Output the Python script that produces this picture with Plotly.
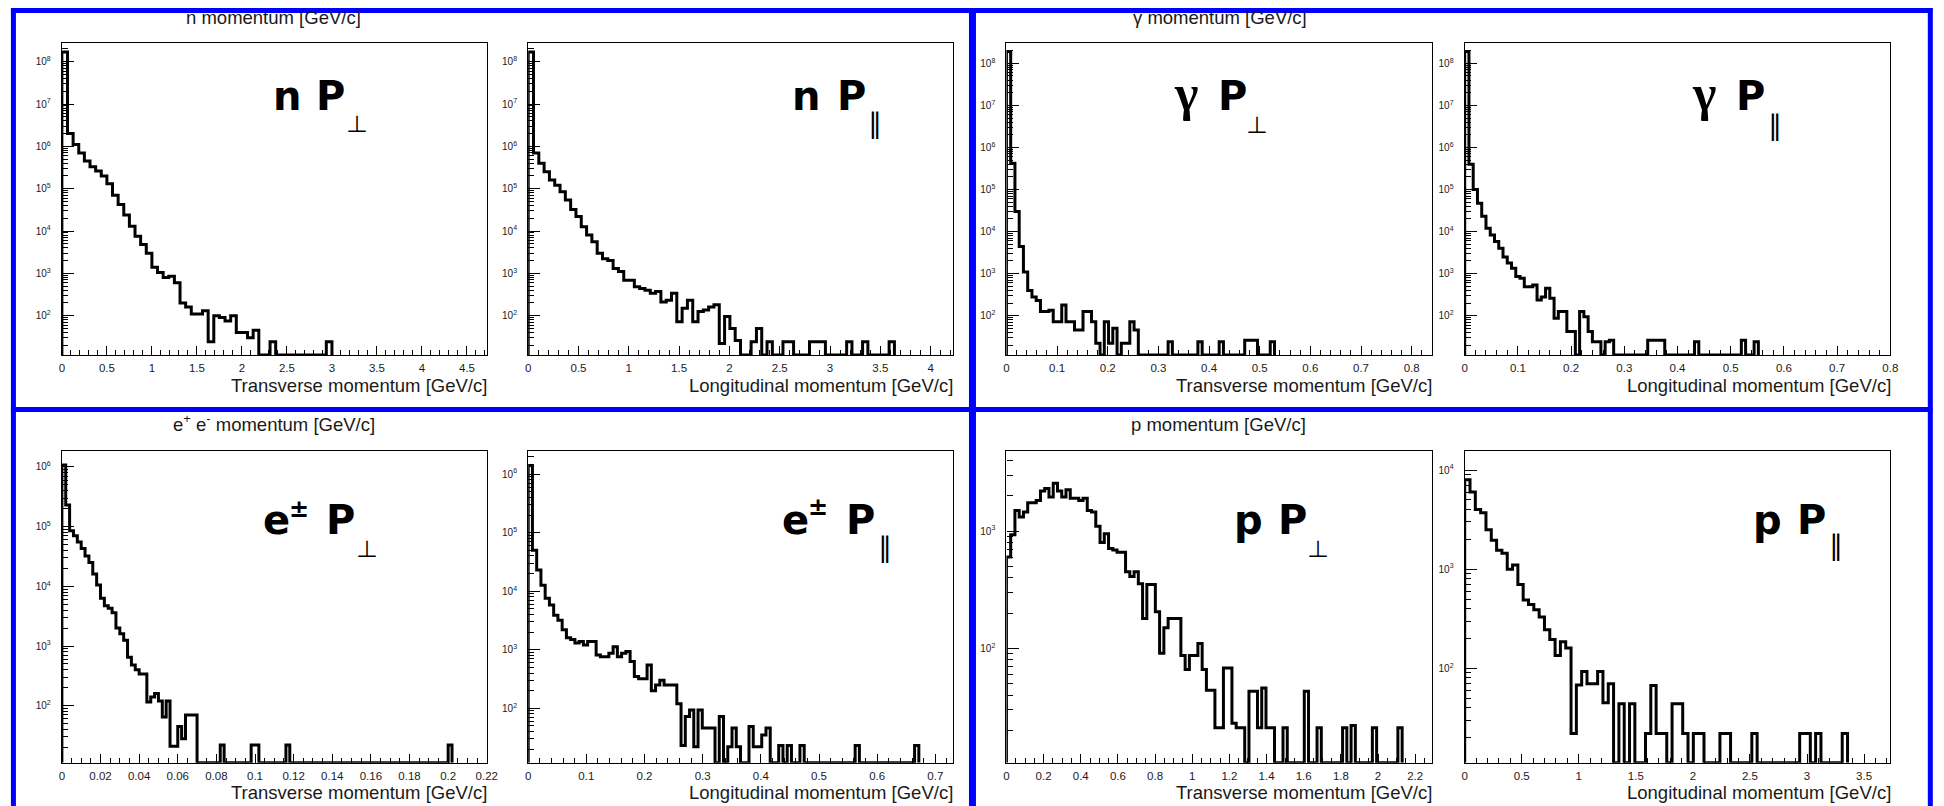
import numpy as np
import plotly.graph_objects as go

FIG_W, FIG_H = 1944, 806

# ---------------------------------------------------------------------------
# Histogram contents: bin width [GeV/c] and entries per bin, starting at 0
# ---------------------------------------------------------------------------
n_pt_width = 0.0625
n_pt_counts = [1.7e8, 2.0e6, 1.1e6, 7.0e5, 4.5e5, 3.3e5, 2.6e5, 2.0e5, 1.3e5, 7.0e4,
               4.2e4, 2.4e4, 1.3e4, 7.5e3, 4.8e3, 3.0e3, 1.4e3, 1.05e3, 800, 850,
               600, 200, 160, 110, 110, 130, 24, 100, 90, 75,
               100, 40, 40, 30, 45, 0, 0, 24, 0, 0,
               0, 0, 0, 0, 0, 0, 0, 24]

n_pl_width = 0.05275
n_pl_counts = [1.7e8, 7.0e5, 4.0e5, 2.5e5, 1.6e5, 1.2e5, 8.5e4, 5.4e4, 3.2e4, 2.2e4,
               1.26e4, 8.0e3, 5.6e3, 3.0e3, 2.2e3, 2.0e3, 1.3e3, 1.1e3, 690, 690,
               480, 440, 400, 340, 370, 210, 230, 340, 72, 150,
               230, 72, 125, 135, 160, 180, 22, 95, 50, 26,
               0, 0, 24, 50, 0, 24, 0, 0, 24, 24,
               0, 0, 0, 24, 24, 24, 0, 0, 0, 0,
               24, 0, 0, 24, 0, 0, 0, 0, 24]

gamma_pt_width = 0.0084
gamma_pt_counts = [1.9e8, 4.2e5, 3.0e4, 4.4e3, 1.1e3, 400, 280, 230, 126, 126,
                   135, 72, 72, 180, 72, 72, 46, 46, 126, 126,
                   72, 22, 0, 72, 22, 50, 0, 22, 22, 72,
                   46, 0, 0, 0, 0, 0, 0, 0, 24, 0,
                   0, 0, 0, 0, 0, 24, 0, 0, 0, 0,
                   24, 0, 0, 0, 0, 0, 26, 26, 26, 0,
                   0, 0, 24]

gamma_pl_width = 0.008
gamma_pl_counts = [1.9e8, 4.0e5, 1.0e5, 4.7e4, 2.3e4, 1.2e4, 8.3e3, 5.8e3, 4.0e3, 2.5e3,
                   1.8e3, 1.35e3, 850, 780, 490, 490, 540, 235, 280, 450,
                   260, 87, 126, 126, 42, 42, 0, 126, 95, 42,
                   24, 24, 0, 24, 26, 0, 0, 0, 0, 0,
                   0, 0, 0, 26, 26, 26, 26, 0, 0, 0,
                   0, 0, 0, 0, 24, 0, 0, 0, 0, 0,
                   0, 0, 0, 0, 0, 26, 0, 0, 24]

e_pt_width = 0.002
e_pt_counts = [1.07e6, 2.3e5, 8.5e4, 7.0e4, 5.5e4, 4.3e4, 3.2e4, 2.5e4, 1.6e4, 1.05e4,
               6.3e3, 4.7e3, 4.3e3, 3.6e3, 2.0e3, 1.6e3, 1.25e3, 650, 480, 400,
               340, 340, 115, 140, 160, 120, 65, 120, 21, 21,
               45, 28, 70, 70, 70, 0, 0, 0, 0, 0,
               0, 22, 0, 0, 0, 0, 0, 0, 0, 22,
               22, 0, 0, 0, 0, 0, 0, 0, 22, 0,
               0, 0, 0, 0, 0, 0, 0, 0, 0, 0,
               0, 0, 0, 0, 0, 0, 0, 0, 0, 0,
               0, 0, 0, 0, 0, 0, 0, 0, 0, 0,
               0, 0, 0, 0, 0, 0, 0, 0, 0, 0,
               22]

e_pl_width = 0.0073
e_pl_counts = [1.4e6, 5.0e4, 2.3e4, 1.26e4, 7.6e3, 5.8e3, 3.9e3, 3.2e3, 2.2e3, 1.6e3,
               1.5e3, 1.3e3, 1.38e3, 1.2e3, 1.38e3, 1.38e3, 810, 760, 760, 870,
               1.12e3, 760, 870, 930, 630, 350, 320, 320, 550, 200,
               250, 300, 250, 250, 250, 120, 23, 72, 93, 22,
               93, 46, 46, 46, 0, 72, 0, 22, 46, 22,
               0, 0, 49, 22, 22, 35, 46, 0, 0, 23,
               0, 23, 0, 0, 23, 0, 0, 0, 0, 0,
               0, 0, 0, 0, 0, 0, 0, 23, 0, 0,
               0, 0, 0, 0, 0, 0, 0, 0, 0, 0,
               0, 23]

p_pt_width = 0.0229
p_pt_counts = [600, 930, 1.5e3, 1.32e3, 1.45e3, 1.74e3, 1.74e3, 1.82e3, 2.2e3, 2.3e3,
               1.95e3, 2.55e3, 2.2e3, 1.95e3, 2.25e3, 1.9e3, 1.9e3, 1.82e3, 1.9e3, 1.5e3,
               1.45e3, 1.1e3, 800, 950, 710, 690, 660, 660, 450, 410,
               450, 355, 180, 350, 350, 205, 91, 150, 180, 180,
               180, 87, 66, 87, 87, 110, 66, 44, 44, 21,
               21, 68, 68, 23, 21, 21, 0, 43, 43, 21,
               46, 21, 21, 0, 0, 21, 0, 0, 0, 0,
               43, 0, 0, 21, 0, 0, 0, 0, 0, 21,
               0, 22, 0, 0, 0, 0, 21, 0, 0, 0,
               0, 0, 21]

p_pl_width = 0.0466
p_pl_counts = [8.0e3, 6.0e3, 4.0e3, 3.7e3, 2.5e3, 1.96e3, 1.55e3, 1.45e3, 1.0e3, 1.1e3,
               700, 490, 440, 390, 330, 245, 195, 135, 185, 160,
               22, 68, 93, 70, 70, 93, 45, 70, 0, 44,
               0, 44, 0, 0, 22, 67, 22, 22, 0, 44,
               44, 22, 0, 22, 22, 0, 0, 0, 22, 22,
               0, 0, 0, 0, 22, 0, 0, 0, 0, 0,
               0, 0, 0, 22, 22, 0, 22, 0, 0, 0,
               0, 22]

# ---------------------------------------------------------------------------
# Text
# ---------------------------------------------------------------------------
pad_titles = ["n momentum [GeV/c]", "γ momentum [GeV/c]",
              "e<sup>+</sup> e<sup>-</sup> momentum [GeV/c]", "p momentum [GeV/c]"]
pt_title = "Transverse momentum [GeV/c]"
pl_title = "Longitudinal momentum [GeV/c]"

# ---------------------------------------------------------------------------
# Pad geometry (pixels) and axis settings
# ---------------------------------------------------------------------------
panels = [
    dict(width=n_pt_width, counts=n_pt_counts, box=(59.3, 43.3, 487.3, 355.0),
         xmax=4.72, xdtick=0.5, xminor=0.1, ylog=(1.07, 8.435), title=pt_title),
    dict(width=n_pl_width, counts=n_pl_counts, box=(529.0, 43.3, 956.7, 355.0),
         xmax=4.22, xdtick=0.5, xminor=0.1, ylog=(1.07, 8.435), title=pl_title),
    dict(width=gamma_pt_width, counts=gamma_pt_counts, box=(1010.7, 43.3, 1439.3, 355.0),
         xmax=0.84, xdtick=0.1, xminor=0.02, ylog=(1.066, 8.475), title=pt_title),
    dict(width=gamma_pl_width, counts=gamma_pl_counts, box=(1472.3, 43.3, 1901.0, 355.0),
         xmax=0.8, xdtick=0.1, xminor=0.02, ylog=(1.066, 8.475), title=pl_title),
    dict(width=e_pt_width, counts=e_pt_counts, box=(59.3, 450.7, 487.3, 762.7),
         xmax=0.22, xdtick=0.02, xminor=0.005, ylog=(1.046, 6.27), title=pt_title),
    dict(width=e_pl_width, counts=e_pl_counts, box=(529.0, 450.7, 956.7, 762.7),
         xmax=0.73, xdtick=0.1, xminor=0.02, ylog=(1.07, 6.40), title=pl_title),
    dict(width=p_pt_width, counts=p_pt_counts, box=(1010.7, 450.7, 1439.3, 762.7),
         xmax=2.29, xdtick=0.2, xminor=0.05, ylog=(1.025, 3.685), title=pt_title),
    dict(width=p_pl_width, counts=p_pl_counts, box=(1472.3, 450.7, 1901.0, 762.7),
         xmax=3.73, xdtick=0.5, xminor=0.1, ylog=(1.048, 4.195), title=pl_title),
]

SANS = "Liberation Sans, Arial, sans-serif"
INK = "#1a1a1a"


def px_x(x):
    return x / FIG_W


def px_y(y):
    return 1 - y / FIG_H


def step_outline(width, counts, floor):
    """Closed step outline of a histogram; empty bins sit on the axis floor."""
    c = np.asarray(counts, dtype=float)
    edges = np.arange(len(c) + 1) * width
    level = np.where(c > 0, c, floor)
    xs = np.repeat(edges, 2)
    ys = np.concatenate([[floor], np.repeat(level, 2), [floor]])
    return xs, ys


fig = go.Figure()
layout = dict(
    width=FIG_W, height=FIG_H,
    margin=dict(l=0, r=0, t=0, b=0),
    paper_bgcolor="white", plot_bgcolor="white",
    showlegend=False,
    font=dict(family=SANS, color=INK),
)
annotations = []

for i, p in enumerate(panels, start=1):
    x0, y0, x1, y1 = p["box"]
    lo, hi = p["ylog"]
    floor = 10 ** lo
    xs, ys = step_outline(p["width"], p["counts"], floor)
    xa, ya = ("x", "y") if i == 1 else (f"x{i}", f"y{i}")
    fig.add_trace(go.Scatter(x=xs, y=ys, mode="lines", xaxis=xa, yaxis=ya,
                             line=dict(color="black", width=3), hoverinfo="skip"))

    decades = list(range(int(np.ceil(lo)), int(np.floor(hi)) + 1))
    minors = [m * 10 ** d for d in range(int(np.floor(lo)), int(np.ceil(hi)) + 1)
              for m in range(2, 10) if lo <= np.log10(m * 10 ** d) <= hi]

    key = "" if i == 1 else str(i)
    layout["xaxis" + key] = dict(
        domain=[px_x(x0), px_x(x1)], anchor=ya, range=[0, p["xmax"]],
        tick0=0, dtick=p["xdtick"], ticks="inside", ticklen=9, tickwidth=1,
        tickcolor="black",
        minor=dict(tick0=0, dtick=p["xminor"], ticks="inside", ticklen=5,
                   tickwidth=1, tickcolor="black"),
        showline=True, linecolor="black", linewidth=1.2, mirror=True,
        showgrid=False, zeroline=False, tickfont=dict(size=11.5, color=INK),
        ticklabelstandoff=2,
    )
    layout["yaxis" + key] = dict(
        domain=[px_y(y1), px_y(y0)], anchor=xa, type="log", range=[lo, hi],
        tickmode="array", tickvals=[10 ** d for d in decades],
        ticktext=[f"10<sup>{d}</sup>" for d in decades],
        ticks="inside", ticklen=12, tickwidth=1, tickcolor="black",
        minor=dict(tickmode="array", tickvals=minors, ticks="inside", ticklen=6,
                   tickwidth=1, tickcolor="black"),
        showline=True, linecolor="black", linewidth=1.2, mirror=True,
        showgrid=False, zeroline=False, tickfont=dict(size=10, color=INK),
        ticklabelstandoff=8,
    )

    # axis title, right-aligned under the frame
    base = 392.7 if y1 < 400 else 800.0
    annotations.append(dict(
        text=p["title"], xref="paper", yref="paper", x=px_x(x1 + 2.5),
        y=px_y(base + 4.9), xanchor="right", yanchor="bottom", showarrow=False,
        font=dict(family=SANS, size=18.5, color=INK)))

# pad titles
for txt, cx, base in zip(pad_titles, [272.7, 1225.8, 272.5, 1224.0],
                         [25.0, 25.0, 431.7, 431.7]):
    annotations.append(dict(
        text=txt, xref="paper", yref="paper", x=px_x(cx), y=px_y(base + 4.9),
        xanchor="center", yanchor="bottom", showarrow=False,
        font=dict(family=SANS, size=18.5, color=INK)))

# large particle labels, one glyph at a time
BIG = 40
BOLD = "DejaVu Sans"


def glyph(txt, cx, baseline, size=BIG, family=BOLD, descent=0.236, bold=True):
    annotations.append(dict(
        text=f"<b>{txt}</b>" if bold else txt, xref="paper", yref="paper",
        x=px_x(cx), y=px_y(baseline + descent * size + 1),
        xanchor="center", yanchor="bottom", showarrow=False,
        font=dict(family=family, size=size, color="black")))


def symbol(txt, cx, cy, size, family):
    annotations.append(dict(
        text=txt, xref="paper", yref="paper", x=px_x(cx), y=px_y(cy),
        xanchor="center", yanchor="middle", showarrow=False,
        font=dict(family=family, size=size, color="black")))


def perp(cx, cy):
    symbol("⊥", cx, cy, 22, "Noto Sans CJK JP")


def para(cx, cy):
    symbol("∥", cx, cy, 28, "DejaVu Sans")


B1, B2 = 110.3, 535.0

glyph("n", 285.8, B1); glyph("P", 330.0, B1); perp(356.7, 122.0)
glyph("n", 809.2, B1); glyph("P", 854.2, B1); para(878.3, 123.4)
glyph("γ", 1191.7, B1 + 0.4, size=50, family="Liberation Serif", descent=0.216)
glyph("P", 1238.0, B1); perp(1263.3, 123.0)
glyph("γ", 1713.7, B1 + 0.4, size=50, family="Liberation Serif", descent=0.216)
glyph("P", 1760.2, B1); para(1785.0, 125.1)

glyph("e", 275.3, B2); glyph("±", 298.3, 518.0, size=24); glyph("P", 340.0, B2)
perp(366.7, 547.0)
glyph("e", 798.3, B2); glyph("±", 821.2, 516.7, size=24); glyph("P", 863.8, B2)
para(888.7, 547.6)
glyph("p", 1254.2, B2); glyph("P", 1298.7, B2); perp(1324.2, 547.0)
glyph("p", 1777.5, B2); glyph("P", 1821.7, B2); para(1846.2, 545.1)

# blue frames around the four canvases
BLUE = "#0000ff"
frame = [
    (8, 10.5, 1943.5, 10.5, 5), (8, 409.5, 1943.5, 409.5, 5),
    (10.5, 8, 10.5, 806, 5), (976.5, 8, 976.5, 806, 7), (1941.3, 8, 1941.3, 806, 5),
]
shapes = [dict(type="line", xref="paper", yref="paper", x0=px_x(a), y0=px_y(b),
               x1=px_x(c), y1=px_y(d), line=dict(color=BLUE, width=w), layer="above")
          for a, b, c, d, w in frame]

layout["annotations"] = annotations
layout["shapes"] = shapes
fig.update_layout(**layout)
fig.write_html("out.html")
